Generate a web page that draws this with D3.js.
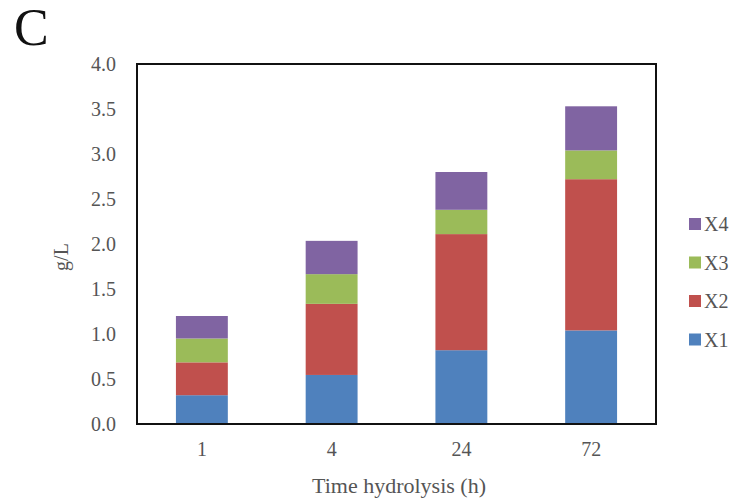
<!DOCTYPE html>
<html>
<head>
<meta charset="utf-8">
<script src="https://cdn.jsdelivr.net/npm/d3@7"></script>
<style>
  body { margin: 0; background: #fff; }
  text { font-family: "Liberation Serif", "DejaVu Serif", serif; }
</style>
</head>
<body>
<svg id="chart" width="738" height="503"></svg>
<script>
// data
var times = ["1", "4", "24", "72"];
var seriesNames = ["X1", "X2", "X3", "X4"];
var x1 = [0.32, 0.545, 0.82, 1.04];
var x2 = [0.365, 0.79, 1.29, 1.68];
var x3 = [0.265, 0.33, 0.27, 0.32];
var x4 = [0.25, 0.37, 0.42, 0.49];
var yTicks = [0, 0.5, 1, 1.5, 2, 2.5, 3, 3.5, 4];
var colors = ["#4F81BD", "#C0504D", "#9BBB59", "#8064A2"];

var rows = times.map(function(t, i) {
	return { time: t, X1: x1[i], X2: x2[i], X3: x3[i], X4: x4[i] };
});

var svg = d3.select("#chart");
var margin = { left: 137, right: 82, top: 64, bottom: 79 };
var width = 738 - margin.left - margin.right,
	height = 503 - margin.top - margin.bottom;

var g = svg.append("g").attr("transform", "translate(" + margin.left + "," + margin.top + ")");

var x = d3.scaleBand().domain(times).range([0, width]).paddingInner(0.6).paddingOuter(0.3);
var y = d3.scaleLinear().domain([0, 4]).range([height, 0]);
var color = d3.scaleOrdinal().domain(seriesNames).range(colors);

var stacked = d3.stack().keys(seriesNames)(rows);

g.selectAll("g.layer")
	.data(stacked)
	.enter().append("g")
	.attr("class", "layer")
	.attr("fill", function(d) { return color(d.key); })
	.selectAll("rect")
	.data(function(d) { return d; })
	.enter().append("rect")
	.attr("x", function(d) { return x(d.data.time); })
	.attr("width", x.bandwidth())
	.attr("y", function(d) { return y(d[1]); })
	.attr("height", function(d) { return y(d[0]) - y(d[1]); });

// frame
g.append("rect")
	.attr("width", width)
	.attr("height", height)
	.attr("fill", "none")
	.attr("stroke", "#111")
	.attr("stroke-width", 2);

// y axis labels
var yAxis = g.append("g")
	.call(d3.axisLeft(y).tickValues(yTicks).tickSize(0).tickPadding(21).tickFormat(d3.format(".1f")));
yAxis.select(".domain").remove();
yAxis.selectAll("text").attr("font-size", 20).attr("fill", "#555")
	.style("font-family", "'Liberation Serif', serif");

// x axis labels
var xAxis = g.append("g")
	.attr("transform", "translate(0," + height + ")")
	.call(d3.axisBottom(x).tickSize(0).tickPadding(18));
xAxis.select(".domain").remove();
xAxis.selectAll("text").attr("font-size", 20).attr("fill", "#555")
	.style("font-family", "'Liberation Serif', serif");

svg.append("text")
	.attr("x", 399)
	.attr("y", 493)
	.attr("text-anchor", "middle")
	.attr("font-size", 22)
	.attr("fill", "#555")
	.text("Time hydrolysis (h)");

svg.append("text")
	.attr("transform", "translate(68,257) rotate(-90)")
	.attr("text-anchor", "middle")
	.attr("font-size", 20)
	.attr("fill", "#555")
	.text("g/L");

svg.append("text")
	.attr("x", 14)
	.attr("y", 45)
	.attr("font-size", 52)
	.attr("fill", "#111")
	.text("C");

// legend, X4 on top
var legend = svg.append("g")
	.selectAll("g")
	.data(seriesNames.slice().reverse())
	.enter().append("g")
	.attr("transform", function(d, i) { return "translate(689," + (224 + i * 38.5) + ")"; });

legend.append("rect")
	.attr("x", 0).attr("y", -6)
	.attr("width", 12).attr("height", 12)
	.attr("fill", function(d) { return color(d); });

legend.append("text")
	.attr("x", 15)
	.attr("y", 7)
	.attr("font-size", 20)
	.attr("fill", "#555")
	.text(function(d) { return d; });
</script>
</body>
</html>
